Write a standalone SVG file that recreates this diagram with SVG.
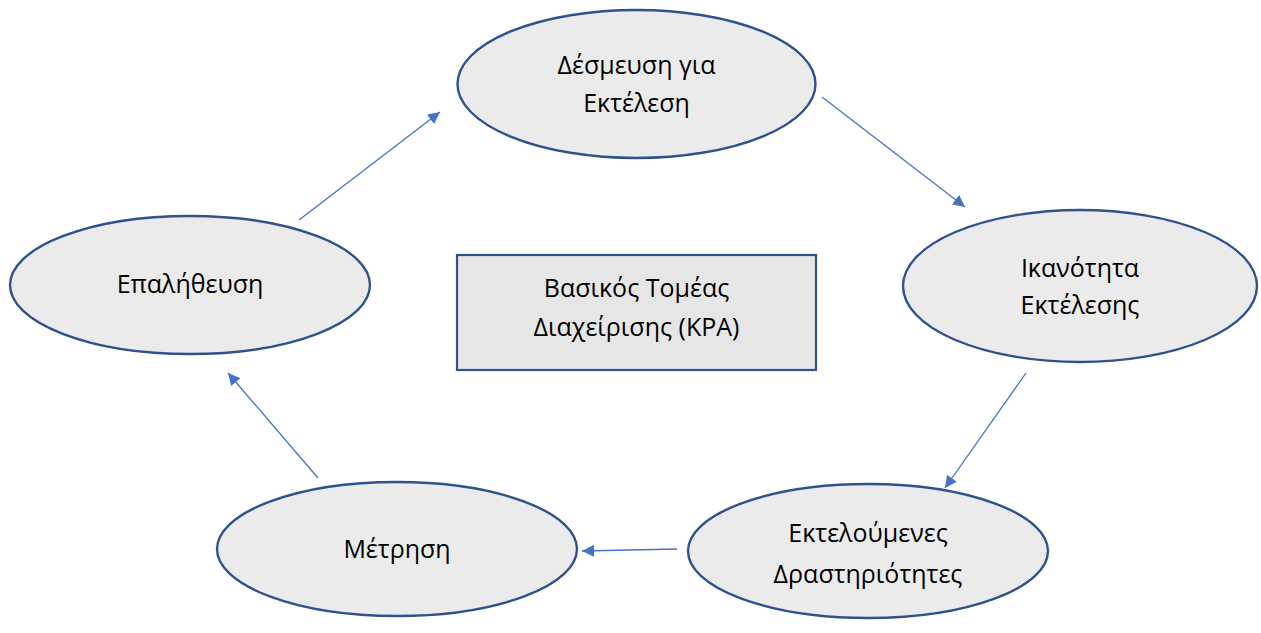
<svg xmlns="http://www.w3.org/2000/svg" width="1261" height="633" viewBox="0 0 1261 633">
<style>
.node{fill:#ebebeb;stroke:#2f528f;stroke-width:2.4}
.box{fill:#e7e6e6;stroke:#2f528f;stroke-width:2.2}
.t{font-family:"Open Sans","Noto Sans","Liberation Sans",sans-serif;font-size:25px;fill:#000;text-anchor:middle}
.c{stroke:#4472c4;stroke-width:1.3;fill:none;marker-end:url(#ah)}
</style>
<defs>
<marker id="ah" markerWidth="12" markerHeight="12" refX="10" refY="5" orient="auto" markerUnits="userSpaceOnUse" viewBox="0 0 10 10">
<path d="M0,0 L10,5 L0,10 z" fill="#4472c4"/>
</marker>
</defs>
<rect width="1261" height="633" fill="#fff"/>
<g id="n1"><ellipse class="node" cx="636.5" cy="84" rx="179" ry="74"/><text class="t" x="636.5" y="74">Δέσμευση για</text><text class="t" x="636.5" y="112">Εκτέλεση</text></g>
<g id="n2"><ellipse class="node" cx="1080" cy="286" rx="177" ry="76"/><text class="t" x="1080" y="277">Ικανότητα</text><text class="t" x="1080" y="314">Εκτέλεσης</text></g>
<g id="n3"><ellipse class="node" cx="868" cy="551" rx="180" ry="67"/><text class="t" x="868" y="542">Εκτελούμενες</text><text class="t" x="868" y="583">Δραστηριότητες</text></g>
<g id="n4"><ellipse class="node" cx="397" cy="549" rx="180" ry="67"/><text class="t" x="397" y="558">Μέτρηση</text></g>
<g id="n5"><ellipse class="node" cx="190" cy="285" rx="180" ry="69"/><text class="t" x="190" y="293">Επαλήθευση</text></g>
<g id="center"><rect class="box" x="457" y="255" width="359" height="115"/><text class="t" x="636.5" y="297">Βασικός Τομέας</text><text class="t" x="636.5" y="336">Διαχείρισης (KPA)</text></g>
<g id="connectors">
<line class="c" x1="822" y1="97" x2="965" y2="207"/>
<line class="c" x1="1026" y1="373" x2="945" y2="488"/>
<line class="c" x1="677" y1="549" x2="582" y2="551"/>
<line class="c" x1="318" y1="478" x2="228" y2="373"/>
<line class="c" x1="299" y1="220" x2="440" y2="112"/>
</g>
</svg>
